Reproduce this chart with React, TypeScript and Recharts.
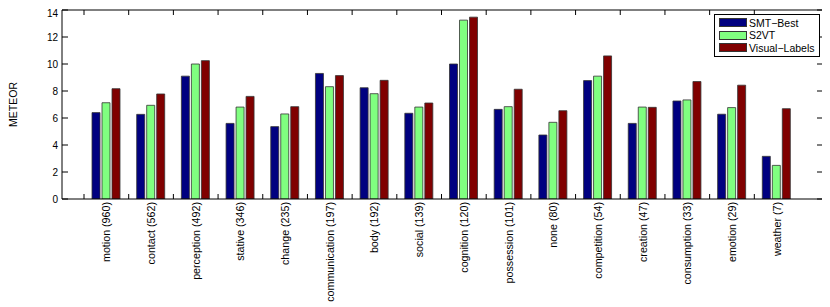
import React from "react";
import { BarChart, Bar, XAxis, YAxis, Legend, Label, ReferenceLine } from "recharts";

// categories (with counts) along the x axis
const CATEGORIES = [
  "motion (960)",
  "contact (562)",
  "perception (492)",
  "stative (346)",
  "change (235)",
  "communication (197)",
  "body (192)",
  "social (139)",
  "cognition (120)",
  "possession (101)",
  "none (80)",
  "competition (54)",
  "creation (47)",
  "consumption (33)",
  "emotion (29)",
  "weather (7)",
];

// METEOR scores per method
const SMT_BEST = [6.4, 6.27, 9.1, 5.6, 5.36, 9.3, 8.24, 6.35, 10.0, 6.64, 4.74, 8.77, 5.6, 7.26, 6.28, 3.16];
const S2VT = [7.13, 6.94, 10.0, 6.81, 6.3, 8.32, 7.8, 6.81, 13.25, 6.84, 5.68, 9.1, 6.81, 7.34, 6.77, 2.49];
const VISUAL_LABELS = [8.17, 7.78, 10.25, 7.6, 6.84, 9.14, 8.79, 7.11, 13.47, 8.13, 6.54, 10.6, 6.79, 8.7, 8.43, 6.69];

const Y_TICKS = [0, 2, 4, 6, 8, 10, 12, 14];

const SERIES = [
  { key: "smt", name: "SMT\u2212Best", color: "#000080" },
  { key: "s2vt", name: "S2VT", color: "#80ff80" },
  { key: "vis", name: "Visual\u2212Labels", color: "#800000" },
];

const data = CATEGORIES.map((name, i) => ({
  name,
  smt: SMT_BEST[i],
  s2vt: S2VT[i],
  vis: VISUAL_LABELS[i],
}));

const FONT = "Liberation Sans, Arial, Helvetica, sans-serif";
const W = 822;
const H = 299;
const M = { top: 2, right: 7, left: 0, bottom: 8 };
const Y_AXIS_W = 54;
const X_AXIS_H = 100;
const PAD_L = 22;
const PAD_R = 24;

const PLOT_LEFT = M.left + Y_AXIS_W;
const PLOT_RIGHT = W - M.right;
const PLOT_TOP = M.top;
const PLOT_BOTTOM = H - M.bottom - X_AXIS_H;
const BAND = (PLOT_RIGHT - PLOT_LEFT - PAD_L - PAD_R) / CATEGORIES.length;

const XTick = (props: any) => {
  const { x, payload } = props;
  const bx = x - BAND / 2;
  return (
    <g>
      <line x1={bx} x2={bx} y1={PLOT_BOTTOM} y2={PLOT_BOTTOM - 5} stroke="#000" />
      <line x1={bx} x2={bx} y1={PLOT_TOP} y2={PLOT_TOP + 5} stroke="#000" />
      <text
        transform={`translate(${x},${PLOT_BOTTOM + 3}) rotate(-90)`}
        textAnchor="end"
        dominantBaseline="central"
        style={{ fontSize: 10.7, fontFamily: FONT }}
        fill="#000"
      >
        {payload.value}
      </text>
    </g>
  );
};

const YTick = (props: any) => {
  const { y, payload } = props;
  return (
    <g>
      <line x1={PLOT_LEFT} x2={PLOT_LEFT + 6} y1={y} y2={y} stroke="#000" />
      <line x1={PLOT_RIGHT} x2={PLOT_RIGHT - 6} y1={y} y2={y} stroke="#000" />
      <text
        x={PLOT_LEFT - 4}
        y={Math.max(y, 5)}
        textAnchor="end"
        dominantBaseline="central"
        style={{ fontSize: 10, fontFamily: FONT }}
        fill="#000"
      >
        {payload.value}
      </text>
    </g>
  );
};

const LegendBox = () => (
  <div
    style={{
      border: "1px solid #000",
      background: "#fff",
      padding: "1.5px 5px 1.7px 4px",
      fontFamily: FONT,
      fontSize: 10.5,
      lineHeight: "12.5px",
    }}
  >
    {SERIES.map((s) => (
      <div key={s.key} style={{ display: "flex", alignItems: "center", height: 12.5 }}>
        <span
          style={{
            display: "inline-block",
            width: 26,
            height: 7,
            background: s.color,
            border: "1px solid #333",
            marginRight: 2,
          }}
        />
        <span style={{ color: "#000", whiteSpace: "nowrap" }}>{s.name}</span>
      </div>
    ))}
  </div>
);

export default function App() {
  return (
    <BarChart
      width={W}
      height={H}
      data={data}
      margin={M}
      barSize={8}
      barGap={2}
      style={{ fontFamily: FONT }}
    >
      <XAxis
        dataKey="name"
        height={X_AXIS_H}
        padding={{ left: PAD_L, right: PAD_R }}
        interval={0}
        tickLine={false}
        tickSize={0}
        tickMargin={0}
        axisLine={{ stroke: "#000" }}
        tick={<XTick />}
      />
      <YAxis
        width={Y_AXIS_W}
        domain={[0, 14]}
        ticks={Y_TICKS}
        interval={0}
        allowDataOverflow
        tickLine={false}
        tickSize={0}
        tickMargin={0}
        axisLine={{ stroke: "#000" }}
        tick={<YTick />}
      >
        <Label
          content={() => (
            <text
              transform={`translate(${5},${(PLOT_TOP + PLOT_BOTTOM) / 2}) rotate(-90)`}
              textAnchor="middle"
              dominantBaseline="central"
              style={{ fontSize: 10.5, fontFamily: FONT }}
              fill="#000"
            >
              METEOR
            </text>
          )}
        />
      </YAxis>
      <YAxis
        yAxisId="right"
        orientation="right"
        width={0}
        domain={[0, 14]}
        ticks={Y_TICKS}
        tick={false}
        tickLine={false}
        axisLine={{ stroke: "#000" }}
      />
      <ReferenceLine y={14} stroke="#000" ifOverflow="extendDomain" />
      <Legend
        layout="horizontal"
        verticalAlign="middle"
        align="center"
        content={<LegendBox />}
        wrapperStyle={{ top: 6, left: 706, width: "auto", height: "auto" }}
      />
      {SERIES.map((s) => (
        <Bar
          key={s.key}
          dataKey={s.key}
          name={s.name}
          fill={s.color}
          stroke="#333"
          strokeWidth={0.8}
          isAnimationActive={false}
        />
      ))}
    </BarChart>
  );
}
